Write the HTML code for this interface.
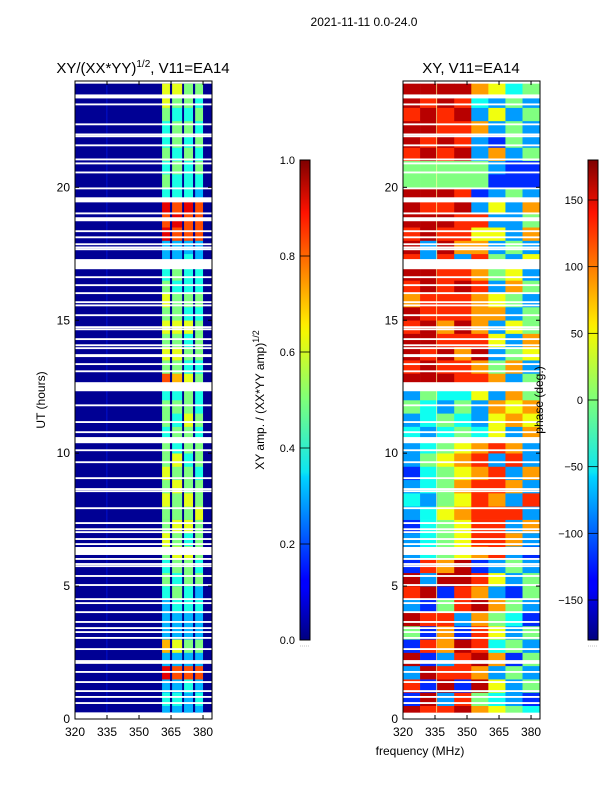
<!DOCTYPE html>
<html><head><meta charset="utf-8">
<style>
html,body{margin:0;padding:0;background:#fff;}
svg{display:block;font-family:"Liberation Sans",sans-serif;}
</style></head>
<body>
<svg id="fig" width="600" height="800" viewBox="0 0 600 800">
<defs>
<linearGradient id="jet" x1="0" y1="1" x2="0" y2="0">
<stop offset="0" stop-color="#00007f"/><stop offset="0.11" stop-color="#0000ff"/>
<stop offset="0.125" stop-color="#0000ff"/><stop offset="0.34" stop-color="#00d4ff"/>
<stop offset="0.35" stop-color="#0ce5f3"/><stop offset="0.5" stop-color="#7dff7a"/>
<stop offset="0.64" stop-color="#f4f802"/><stop offset="0.66" stop-color="#ffea00"/>
<stop offset="0.89" stop-color="#ff1200"/><stop offset="1" stop-color="#7f0000"/>
</linearGradient>
<clipPath id="clipL"><rect x="75" y="81" width="137" height="638"/></clipPath>
<clipPath id="clipR"><rect x="403" y="81" width="137" height="638"/></clipPath>
</defs>
<text x="364" y="26" font-size="12" text-anchor="middle">2021-11-11 0.0-24.0</text>
<text x="143" y="73" font-size="15" text-anchor="middle">XY/(XX*YY)<tspan font-size="10" dy="-6">1/2</tspan><tspan dy="6">, V11=EA14</tspan></text>
<text x="471" y="73" font-size="15" text-anchor="middle">XY, V11=EA14</text>
<g id="ampMap" clip-path="url(#clipL)"></g>
<g id="phaseMap" clip-path="url(#clipR)"></g>
<g id="axes"></g>
<text transform="translate(45,400) rotate(-90)" font-size="12" text-anchor="middle">UT (hours)</text>
<text x="420" y="755" font-size="12" text-anchor="middle">frequency (MHz)</text>
<text transform="translate(264,400) rotate(-90)" font-size="12" text-anchor="middle">XY amp. / (XX*YY amp)<tspan font-size="9" dy="-5">1/2</tspan></text>
<text transform="translate(543,400) rotate(-90)" font-size="12" text-anchor="middle">phase (deg.)</text>
</svg>
<script>
// ---- data ----
const timeBinHours = 0.5;
const dataStart = 0.25, dataEnd = 23.9;
const ampStripeFreqs = [[360.8,364.5],[365.5,370.2],[371.1,375.3],[376.3,380.0]];
const ampStripe1 = "343937333454565565655455485656565433989454544566";
const ampStripe2 = "343836334545656556564545475656554533898445455456";
const ampStripe3 = "334835334455646565545565564546454443889444545455";
const ampStripe4 = "343835334354555655455454454555454433888345454545";
const ampBackground = 0.02;
const phaseColumns = [320,328,336,344,352,360,368,376,384];
const phaseRows = ["87786543","18274321","71818524","28776242","81278614","17687342","41617524","87726431","21478642","78176214","82887524","17681242",
"23456721","23457762","13457726","23567772","32457627","23467762","13456726","24567272","23456762",
"32343526","23432565","43242656","24335264",
"88877624","78776462","87868245","88777526","78686254","87776624","67776542","78787264","88776452",
"72727425","82866242","78775526","88877224","87782526","88871242","44444111","44444211",
"78782624","87872142","88776242","78782524","87873242","88886534"];
const flagTimes = [23.42,23.12,22.37,21.99,21.92,21.58,21.05,20.90,20.56,19.96,19.53,19.02,18.80,18.35,18.12,17.86,17.74,17.67,17.11,16.62,16.32,16.02,15.68,15.56,15.19,14.74,14.66,14.29,14.06,13.95,13.67,13.35,13.08,12.50,11.80,11.17,10.79,10.49,10.11,9.66,9.06,8.65,8.57,7.93,7.37,7.14,7.03,6.77,6.58,6.32,6.02,5.83,5.75,5.38,5.04,4.51,4.36,4.02,3.65,3.42,3.27,3.05,2.63,2.18,2.11,1.77,1.39,1.05,0.83,0.60];
const flagDurs = [0.15,0.07,0.07,0.07,0.07,0.07,0.07,0.07,0.07,0.07,0.19,0.07,0.15,0.07,0.07,0.07,0.07,0.07,0.38,0.07,0.07,0.07,0.07,0.07,0.07,0.07,0.07,0.07,0.07,0.07,0.11,0.07,0.07,0.34,0.07,0.07,0.07,0.23,0.07,0.07,0.07,0.07,0.07,0.07,0.07,0.07,0.07,0.07,0.07,0.30,0.07,0.07,0.07,0.07,0.07,0.07,0.07,0.07,0.07,0.07,0.07,0.07,0.07,0.07,0.07,0.07,0.07,0.07,0.07,0.07];
const yTicks = [0,5,10,15,20];
const xTicks = [320,335,350,365,380];
const ampCbTicks = [0.0,0.2,0.4,0.6,0.8,1.0];
const phaseCbTicks = [-150,-100,-50,0,50,100,150];

// ---- scales ----
const NS = "http://www.w3.org/2000/svg";
const yT = t => 719 - t * (638 / 24);
const xL = f => 75 + (f - 320) * 137 / 64.2;
const xR = f => 403 + (f - 320) * 137 / 64.2;
const cbY = v => 640 - v * 480;
const phY = p => 640 - (p + 180) / 360 * 480;
function jet(v){
  v = Math.max(0, Math.min(1, v));
  const c = x => Math.round(255 * Math.max(0, Math.min(1, x)));
  const r = c(1.5 - Math.abs(4 * v - 3)), g = c(1.5 - Math.abs(4 * v - 2)), b = c(1.5 - Math.abs(4 * v - 1));
  return `rgb(${r},${g},${b})`;
}
function mk(tag, attrs, parent){
  const e = document.createElementNS(NS, tag);
  for (const k in attrs) e.setAttribute(k, attrs[k]);
  parent.appendChild(e);
  return e;
}
const ampG = document.getElementById('ampMap');
const phG = document.getElementById('phaseMap');
const axG = document.getElementById('axes');

// amplitude background
let bg = mk('rect', {x: xL(320), y: yT(dataEnd), width: xL(384.2) - xL(320), height: yT(dataStart) - yT(dataEnd), fill: jet(ampBackground)}, ampG);


let vl = mk('rect', {x: xL(334.7), y: yT(dataEnd), width: 1, height: yT(dataStart) - yT(dataEnd), fill: '#0010d0'}, ampG);


const stripes = [ampStripe1, ampStripe2, ampStripe3, ampStripe4];
stripes.forEach((s, si) => {
  for (let i = 0; i < s.length; i++) {
    const t0 = Math.max(dataStart, i * timeBinHours), t1 = Math.min(dataEnd, (i + 1) * timeBinHours);
    if (t1 <= t0) continue;
    const v = +s[i] / 10;
    const r = mk('rect', {x: xL(ampStripeFreqs[si][0]), y: yT(t1), width: xL(ampStripeFreqs[si][1]) - xL(ampStripeFreqs[si][0]), height: yT(t0) - yT(t1) + 0.3, fill: jet(v)}, ampG);
    
    
  }
});
// phase cells
phaseRows.forEach((row, i) => {
  const t0 = Math.max(dataStart, i * timeBinHours), t1 = Math.min(dataEnd, (i + 1) * timeBinHours);
  for (let j = 0; j < row.length; j++) {
    const p = -160 + (+row[j]) * 40;
    const r = mk('rect', {x: xR(phaseColumns[j]), y: yT(t1), width: xR(phaseColumns[j + 1]) - xR(phaseColumns[j]) + 0.3, height: yT(t0) - yT(t1) + 0.3, fill: jet((p + 180) / 360)}, phG);
    
    
  }
});
let pl = mk('rect', {x: xR(335.5), y: yT(dataEnd), width: 1, height: yT(dataStart) - yT(dataEnd), fill: '#ffffa0', opacity: 0.7}, phG);


// flags (white rows) on both panels
[ampG, phG].forEach(g => {
  flagTimes.forEach((t, k) => {
    const d = flagDurs[k];
    const r = mk('rect', {x: g === ampG ? 75 : 403, y: yT(t + d / 2), width: 137, height: Math.max(1.6, yT(t - d / 2) - yT(t + d / 2)), fill: '#fff'}, g);
    
    
  });
});
// axes frames, ticks
[[75, xL], [403, xR]].forEach(([x0, xs], pi) => {
  const f = mk('rect', {x: x0, y: 81, width: 137, height: 638, fill: 'none', stroke: '#000', 'stroke-width': 1}, axG);
  
  
  xTicks.forEach(v => {
    const x = xs(v);
    mk('line', {x1: x, x2: x, y1: 719, y2: 715, stroke: '#000'}, axG);
    mk('line', {x1: x, x2: x, y1: 81, y2: 85, stroke: '#000'}, axG);
    const tx = mk('text', {x: x, y: 736, 'font-size': 12, 'text-anchor': 'middle'}, axG);
    tx.textContent = v;
    
    
  });
  yTicks.forEach(v => {
    const y = yT(v);
    mk('line', {x1: x0, x2: x0 + 4, y1: y, y2: y, stroke: '#000'}, axG);
    mk('line', {x1: x0 + 137, x2: x0 + 133, y1: y, y2: y, stroke: '#000'}, axG);
    const tx = mk('text', {x: x0 - 5, y: y + 4, 'font-size': 12, 'text-anchor': 'end'}, axG);
    tx.textContent = v;
    
    
  });
});
// colorbars
[[300, ampCbTicks, cbY, v => v.toFixed(1), 'amp-colorbar'], [588, phaseCbTicks, phY, v => (v < 0 ? '\u2212' + (-v) : '' + v), 'phase-colorbar']].forEach(([x0, ticks, sc, fmt, nm]) => {
  const r = mk('rect', {x: x0, y: 160, width: 10, height: 480, fill: 'url(#jet)', stroke: '#000', 'stroke-width': 1}, axG);
  
  
  ticks.forEach(v => {
    const y = sc(v);
    mk('line', {x1: x0, x2: x0 + 10, y1: y, y2: y, stroke: '#000', 'stroke-width': 0.8}, axG);
    const tx = mk('text', {x: x0 - 5, y: y + 4, 'font-size': 11, 'text-anchor': 'end'}, axG);
    tx.textContent = fmt(v);
    
    
  });
  mk('line', {x1: x0, x2: x0 + 10, y1: 646, y2: 646, stroke: '#888', 'stroke-width': 0.6, 'stroke-dasharray': '1,1'}, axG);
});
</script>
</body></html>
